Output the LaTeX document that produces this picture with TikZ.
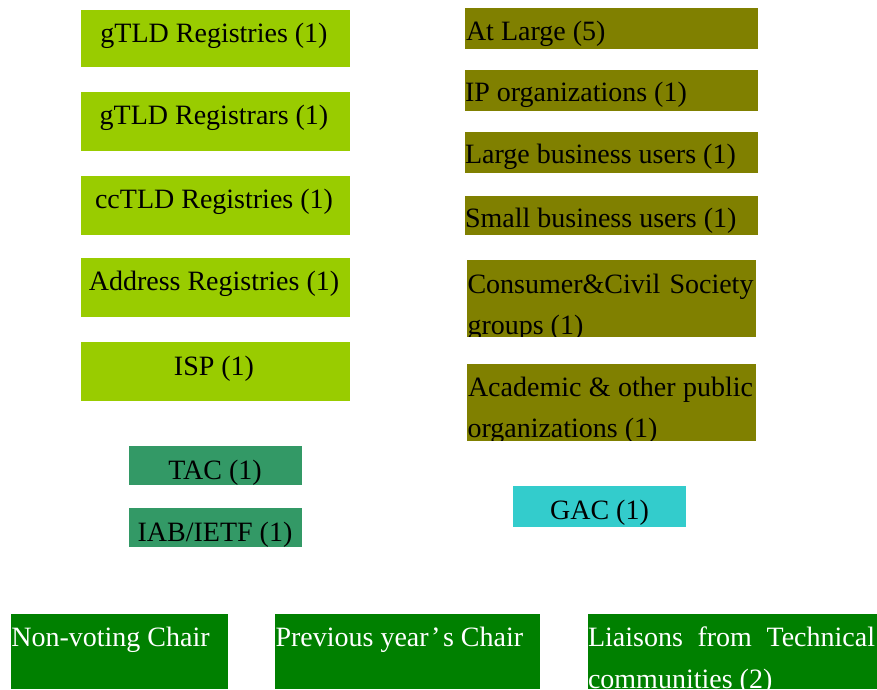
\documentclass[tikz,border=0pt]{standalone}
\usepackage{fontspec}
\setmainfont{Liberation Serif}
\definecolor{lgreen}{HTML}{99CC00}
\definecolor{olive}{HTML}{808000}
\definecolor{teal}{HTML}{339966}
\definecolor{cyan}{HTML}{33CCCC}
\definecolor{dgreen}{HTML}{008000}
\begin{document}
\begin{tikzpicture}[x=1pt,y=-1pt,
  box/.style={rectangle,inner sep=0pt,outer sep=0pt,draw=none},
  lbl/.style={inner sep=0pt,outer sep=0pt,font=\fontsize{28}{41}\selectfont,text=black},
  wlbl/.style={lbl,text=white}]
\useasboundingbox (0,0) rectangle (877,689);
% helper: box from corners
\newcommand{\mybox}[6]{% name, color, x1,y1,x2,y2
  \path[fill=#2] (#3,#4) rectangle (#5,#6);
  \coordinate (#1-nw) at (#3,#4);
  \coordinate (#1-se) at (#5,#6);
}
% left column
\mybox{r1}{lgreen}{81}{10}{350}{66.7}
\mybox{r2}{lgreen}{81}{92}{350}{150.7}
\mybox{r3}{lgreen}{81}{176}{350}{234.7}
\mybox{r4}{lgreen}{81}{258}{350}{316.7}
\mybox{r5}{lgreen}{81}{342}{350}{400.7}
\node[lbl,anchor=base] (t1) at (214,42.5) {gTLD Registries (1)};
\node[lbl,anchor=base] (t2) at (214,124.5) {gTLD Registrars (1)};
\node[lbl,anchor=base] (t3) at (214,208.5) {ccTLD Registries (1)};
\node[lbl,anchor=base] (t4) at (214,290.5) {Address Registries (1)};
\node[lbl,anchor=base] (t5) at (214,375) {ISP (1)};
% right column
\mybox{o1}{olive}{465}{8}{758}{48.7}
\mybox{o2}{olive}{465}{70}{758}{110.7}
\mybox{o3}{olive}{465}{132}{758}{172.7}
\mybox{o4}{olive}{465}{196}{758}{234.7}
\mybox{o5}{olive}{467}{260}{756}{336.7}
\mybox{o6}{olive}{467}{364}{756}{440.7}
\node[lbl,anchor=base west] (u1) at (466,40) {At Large (5)};
\node[lbl,anchor=base west] (u2) at (465,101.7) {IP organizations (1)};
\node[lbl,anchor=base west] (u3) at (465,163.3) {Large business users (1)};
\node[lbl,anchor=base west] (u4) at (465,227.7) {Small business users (1)};
\begin{scope}
\clip (o5-nw) rectangle (o5-se);
\node[lbl,anchor=base west] (u5a) at (467.5,293.3) {\makebox[286pt][s]{Consumer\&Civil Society}};
\node[lbl,anchor=base west] (u5b) at (467.5,334.3) {groups (1)};
\end{scope}
\begin{scope}
\clip (o6-nw) rectangle (o6-se);
\node[lbl,anchor=base west] (u6a) at (468,396.7) {\makebox[285pt][s]{Academic \& other public}};
\node[lbl,anchor=base west] (u6b) at (467.5,437.7) {organizations (1)};
\end{scope}
% TAC, IAB, GAC
\mybox{tac}{teal}{129}{446}{302}{484.7}
\mybox{iab}{teal}{129}{508}{302}{546.7}
\mybox{gac}{cyan}{513}{486}{686}{526.7}
\node[lbl,anchor=base] (v1) at (215,479.3) {TAC (1)};
\node[lbl,anchor=base] (v2) at (215,541.7) {IAB/IETF (1)};
\node[lbl,anchor=base] (v3) at (599.5,519.3) {GAC (1)};
% bottom row
\mybox{b1}{dgreen}{11.3}{614}{228}{689}
\mybox{b2}{dgreen}{275}{614}{540}{689}
\mybox{b3}{dgreen}{587.5}{614}{877}{689}
\node[wlbl,anchor=base west] (w1) at (11.3,646.7) {Non-voting Chair};
\node[wlbl,anchor=base west] (w2) at (275.5,646.7) {Previous year\hspace{2.5pt}’\hspace{2.5pt}s Chair};
\begin{scope}
\clip (b3-nw) rectangle (b3-se);
\node[wlbl,anchor=base west] (w3a) at (588,646.7) {\makebox[287pt][s]{Liaisons from Technical}};
\node[wlbl,anchor=base west] (w3b) at (588,688) {communities (2)};
\end{scope}
\end{tikzpicture}
\end{document}
